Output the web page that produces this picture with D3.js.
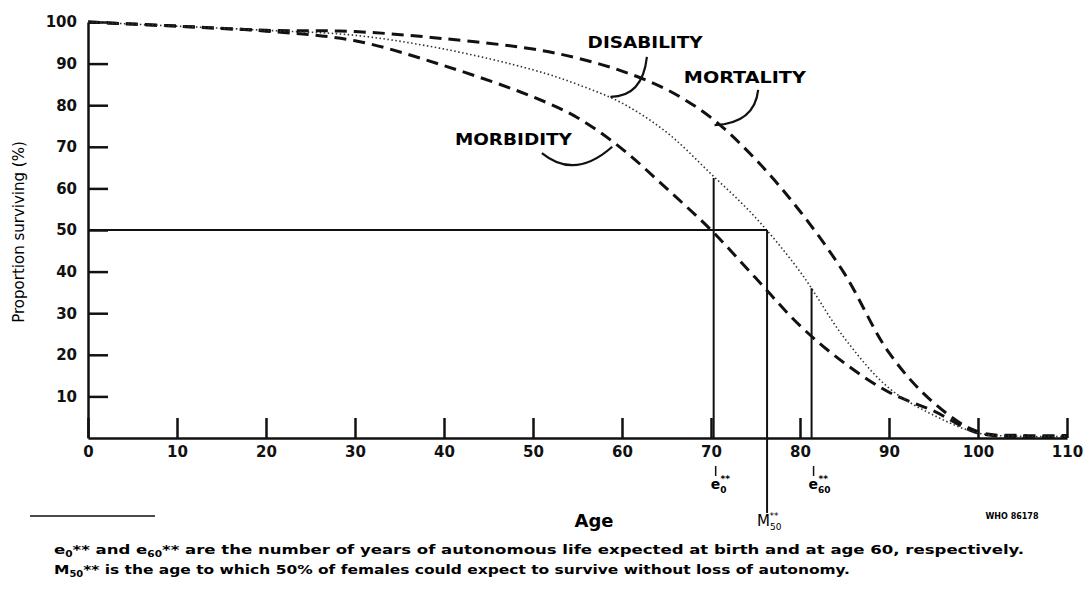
<!DOCTYPE html>
<html>
<head>
<meta charset="utf-8">
<script src="https://cdn.jsdelivr.net/npm/d3@7"></script>
<style>
  body { margin: 0; background: #fff; }
  svg { display: block; }
  .tick text { font-family: "DejaVu Sans", sans-serif; font-weight: bold; font-size: 15px; fill: #111; }
  .tick line, .domain { stroke: #111; stroke-width: 2.5; }
</style>
</head>
<body>
<div id="chart"></div>
<script>
// Curvas de sobrevivência (%) por idade
const ages       = [0, 10, 20, 30, 40, 50, 55, 60, 65, 70, 75, 80, 85, 90, 95, 100, 105, 110];
const mortality  = [100, 99, 98, 97.7, 96, 93.5, 91.3, 88.2, 83.8, 77, 67, 54.5, 39.5, 20.5, 8.5, 1.5, 0.6, 0.6];
const disability = [100, 99, 98, 96.8, 93.5, 88.5, 85, 80.5, 73.5, 63.5, 53, 40, 24, 12, 5.5, 1.2, 0.4, 0.4];
const morbidity  = [100, 99, 97.8, 95.5, 89.5, 82, 77, 69.5, 60, 50, 38.5, 27, 18, 11, 6.5, 1.2, 0.3, 0.3];

// Marcadores e0**, M50**, e60**
const markerNames = ["e0", "M50", "e60"];
const markerAges  = [70.3, 76.3, 81.3];
const markerTops  = [62.5, 50, 36];

const xTicks = [0, 10, 20, 30, 40, 50, 60, 70, 80, 90, 100, 110];
const yTicks = [10, 20, 30, 40, 50, 60, 70, 80, 90, 100];

const width = 1083, height = 601;

const svg = d3.select("#chart").append("svg")
    .attr("width", width)
    .attr("height", height);

const x = d3.scaleLinear().domain([0, 110]).range([88, 1067]);
const y = d3.scaleLinear().domain([0, 100]).range([438, 22]);

// Eixos
svg.append("g")
    .attr("transform", `translate(0,${y(0)})`)
    .call(d3.axisBottom(x).tickValues(xTicks).tickSize(-20).tickSizeOuter(0).tickPadding(8));

svg.append("g")
    .attr("transform", `translate(${x(0)},0)`)
    .call(d3.axisLeft(y).tickValues(yTicks).tickSize(-20).tickSizeOuter(0).tickPadding(11));

// Curvas
const line = d3.line()
    .x((d, i) => x(ages[i]))
    .y(d => y(d))
    .curve(d3.curveCatmullRom.alpha(0.5));

svg.append("path").datum(mortality)
    .attr("d", line).attr("fill", "none")
    .attr("stroke", "#111").attr("stroke-width", 3).attr("stroke-dasharray", "12,7");

svg.append("path").datum(morbidity)
    .attr("d", line).attr("fill", "none")
    .attr("stroke", "#111").attr("stroke-width", 3).attr("stroke-dasharray", "12,7");

svg.append("path").datum(disability)
    .attr("d", line).attr("fill", "none")
    .attr("stroke", "#333").attr("stroke-width", 1.6).attr("stroke-dasharray", "1.5,2.5");

// Linha horizontal de 50% até M50
svg.append("line")
    .attr("x1", x(0)).attr("x2", x(markerAges[1]))
    .attr("y1", y(50)).attr("y2", y(50))
    .attr("stroke", "#111").attr("stroke-width", 2);

// Linhas verticais dos marcadores
svg.selectAll(".marker")
    .data(markerNames)
    .join("line")
    .attr("class", "marker")
    .attr("x1", (d, i) => x(markerAges[i]))
    .attr("x2", (d, i) => x(markerAges[i]))
    .attr("y1", (d, i) => y(markerTops[i]))
    .attr("y2", d => d === "M50" ? y(-18) : y(0))
    .attr("stroke", "#111").attr("stroke-width", 2);

// Pequenos traços abaixo de 70 e 80
const labelFont = "'DejaVu Sans', sans-serif";
[0, 2].forEach(i => {
    const tx = x(markerAges[i]) + 2;
    svg.append("line")
        .attr("x1", tx).attr("x2", tx)
        .attr("y1", 466).attr("y2", 476)
        .attr("stroke", "#111").attr("stroke-width", 1.5);
    const t = svg.append("text")
        .attr("x", tx - 5).attr("y", 489)
        .attr("font-family", labelFont).attr("font-weight", "bold").attr("font-size", 14);
    t.append("tspan").text("e");
    t.append("tspan").attr("font-size", 9).attr("dy", 4).text(i === 0 ? "0" : "60");
    t.append("tspan").attr("font-size", 9).attr("dy", -11).attr("dx", i === 0 ? -6 : -12).text("**");
});

// Rótulo M50**
const m = svg.append("text")
    .attr("x", x(markerAges[1]) - 10).attr("y", 526)
    .attr("font-family", labelFont).attr("font-size", 15);
m.append("tspan").text("M");
m.append("tspan").attr("font-size", 9).attr("dy", 4).text("50");
m.append("tspan").attr("font-size", 9).attr("dy", -11).attr("dx", -12).text("**");

// Rótulos das curvas com linhas de chamada
const annotations = [
    { name: "DISABILITY", lx: 62.6, ly: 95,   len: 115, pts: [[62.8, 91.6], [62.3, 82], [58.7, 82]] },
    { name: "MORTALITY",  lx: 73.8, ly: 86.5, len: 122, pts: [[75.3, 83.7], [74.9, 75.7], [70.4, 75.2]] },
    { name: "MORBIDITY",  lx: 47.8, ly: 71.6, len: 117, pts: [[51, 68.5], [54.7, 62], [58.9, 70]] }
];

annotations.forEach(a => {
    svg.append("text")
        .attr("x", x(a.lx) - a.len / 2).attr("y", y(a.ly))
        .attr("dominant-baseline", "central")
        .attr("font-family", "'DejaVu Sans', sans-serif")
        .attr("font-weight", "bold").attr("font-size", 15)
        .attr("textLength", a.len).attr("lengthAdjust", "spacingAndGlyphs")
        .text(a.name);
    const [p0, c, p1] = a.pts;
    svg.append("path")
        .attr("d", `M${x(p0[0])},${y(p0[1])} Q${x(c[0])},${y(c[1])} ${x(p1[0])},${y(p1[1])}`)
        .attr("fill", "none").attr("stroke", "#111").attr("stroke-width", 2.2);
});

// Título do eixo Y
svg.append("text")
    .attr("transform", `translate(24,${(y(0) + y(100)) / 2 + 2}) rotate(-90)`)
    .attr("text-anchor", "middle")
    .attr("font-family", "'DejaVu Sans', sans-serif").attr("font-size", 15)
    .text("Proportion surviving (%)");

// Título do eixo X
svg.append("text")
    .attr("x", 594).attr("y", 527)
    .attr("text-anchor", "middle")
    .attr("font-family", "'DejaVu Sans', sans-serif").attr("font-weight", "bold").attr("font-size", 18)
    .text("Age");

svg.append("text")
    .attr("x", 1012).attr("y", 519)
    .attr("text-anchor", "middle")
    .attr("font-family", "'DejaVu Sans', sans-serif").attr("font-weight", "bold").attr("font-size", 8)
    .text("WHO 86178");

// Nota de rodapé
svg.append("line")
    .attr("x1", 30).attr("x2", 155).attr("y1", 516).attr("y2", 516)
    .attr("stroke", "#111").attr("stroke-width", 1.5);

const foot1 = svg.append("text")
    .attr("x", 54).attr("y", 554)
    .attr("font-family", "'DejaVu Sans Condensed', 'DejaVu Sans', sans-serif")
    .attr("font-weight", "bold").attr("font-size", 12.5)
    .attr("textLength", 970).attr("lengthAdjust", "spacingAndGlyphs");
foot1.append("tspan").text("e");
foot1.append("tspan").attr("font-size", 8).attr("dy", 3).text("0");
foot1.append("tspan").attr("dy", -3).text("** and e");
foot1.append("tspan").attr("font-size", 8).attr("dy", 3).text("60");
foot1.append("tspan").attr("dy", -3).text("** are the number of years of autonomous life expected at birth and at age 60, respectively.");

const foot2 = svg.append("text")
    .attr("x", 54).attr("y", 574)
    .attr("font-family", "'DejaVu Sans Condensed', 'DejaVu Sans', sans-serif")
    .attr("font-weight", "bold").attr("font-size", 12.5)
    .attr("textLength", 796).attr("lengthAdjust", "spacingAndGlyphs");
foot2.append("tspan").text("M");
foot2.append("tspan").attr("font-size", 8).attr("dy", 3).text("50");
foot2.append("tspan").attr("dy", -3).text("** is the age to which 50% of females could expect to survive without loss of autonomy.");
</script>
</body>
</html>
